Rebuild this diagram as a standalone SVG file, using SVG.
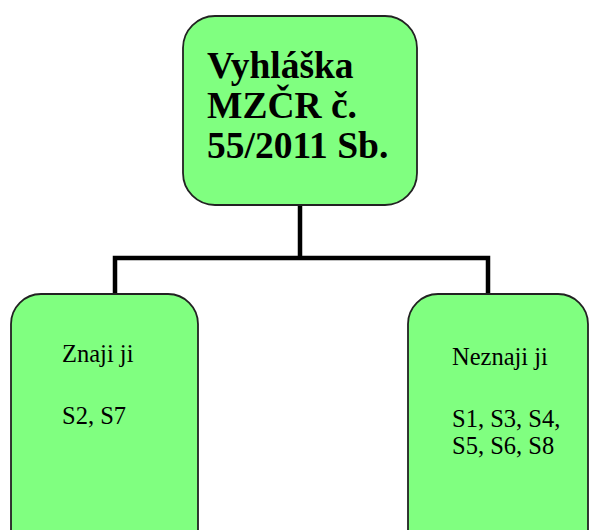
<svg xmlns="http://www.w3.org/2000/svg" width="590" height="530" viewBox="0 0 590 530">
<style>
.box{fill:#80ff80;stroke:#222;stroke-width:1.8}
.conn{fill:none;stroke:#000;stroke-width:4.5}
.t{font-family:"Liberation Serif","Times New Roman",serif;fill:#000}
.big{font-size:37.5px;font-weight:bold}
.small{font-size:24.5px}
</style>
<rect width="590" height="530" fill="#fff"/>
<g id="connectors">
<path class="conn" d="M300 205V258M115 294V258H488V294"/>
</g>
<g id="root">
<rect class="box" x="183" y="16" width="234" height="189" rx="32"/>
<text class="t big" x="207" y="78">Vyhláška</text>
<text class="t big" x="207" y="118">MZČR č.</text>
<text class="t big" x="207" y="158">55/2011 Sb.</text>
</g>
<g id="left">
<rect class="box" x="11" y="294" width="187" height="270" rx="30"/>
<text class="t small" x="62" y="362">Znaji ji</text>
<text class="t small" x="62" y="424">S2, S7</text>
</g>
<g id="right">
<rect class="box" x="408" y="294" width="180" height="270" rx="30"/>
<text class="t small" x="452" y="365">Neznaji ji</text>
<text class="t small" x="452" y="427">S1, S3, S4,</text>
<text class="t small" x="452" y="454">S5, S6, S8</text>
</g>
</svg>
